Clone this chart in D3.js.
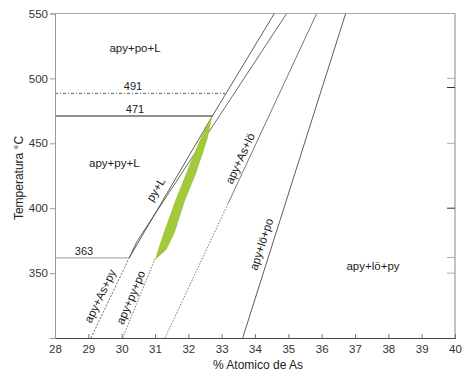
<!DOCTYPE html>
<html><head><meta charset="utf-8">
<script src="https://cdn.jsdelivr.net/npm/d3@7"></script>
<style>body{margin:0;background:#fff}svg{display:block;font-family:"Liberation Sans",Arial,sans-serif}</style>
</head><body><svg id="c" width="468" height="382"></svg>
<script>
// ---- data ----
const xTicks = [28,29,30,31,32,33,34,35,36,37,38,39,40];
const yTicks = [350,400,450,500,550];
const rightTicks = [500,493,450,400,362,350];
const rightTickDark = [false,true,false,true,false,false];
// boundary curves [% As, T °C]
const lineApyAsPy = [[29.08,300],[30.23,362]];            // dashed
const linePyL_left = [[30.23,362],[32.72,471],[34.58,550]];
const linePyL_right = [[30.23,362],[30.45,374],[34.95,550]];
const lineApyPyPo = [[30.03,300],[31.0,361]];             // dotted
const lineApyAsLoDot = [[31.3,300],[33.2,404]];           // dotted part
const lineApyAsLo = [[33.2,404],[35.85,550]];             // solid part
const lineApyLoPo = [[33.63,300],[36.72,550]];
// green field: left edge (bottom->top), right edge (top->bottom)
const greenLeft = [[31.0,360],[31.09,368],[31.26,381],[31.61,406],[31.92,426],[32.22,445],[32.35,453],[32.70,471]];
const greenRight = [[32.72,471],[32.57,453],[32.47,445],[32.22,426],[31.9,406],[31.59,381],[31.34,368],[31.0,360]];
// horizontal reference lines
const hLines = [{t:488.5,x1:28,x2:33.1,label:"491",lx:30.34},{t:471,x1:28,x2:32.72,label:"471",lx:30.4},{t:361.7,x1:28,x2:30.23,label:"363",lx:28.87}];
// field labels
const fieldLabels = [
  {text:"apy+po+L",x:30.4,t:522.5,rot:0},
  {text:"apy+py+L",x:29.78,t:433.8,rot:0},
  {text:"apy+lö+py",x:37.54,t:355,rot:0}
];
const curveLabels = [
  {text:"py+L",x:31.05,t:414,rot:-59},
  {text:"apy+As+lö",x:33.58,t:438,rot:-65},
  {text:"apy+lö+po",x:34.22,t:372,rot:-72},
  {text:"apy+As+py",x:29.38,t:332,rot:-64},
  {text:"apy+py+po",x:30.3,t:331,rot:-67}
];

// ---- chart ----
const svg = d3.select("#c");
const x = d3.scaleLinear().domain([28,40]).range([55,455]);
const y = d3.scaleLinear().domain([300,550]).range([338,13.5]);
const line = d3.line().x(d=>x(d[0])).y(d=>y(d[1]));

// frame
svg.append("line").attr("x1",x(28)).attr("x2",x(40)).attr("y1",y(550)).attr("y2",y(550)).attr("stroke","#aaa");
svg.append("line").attr("x1",x(40)).attr("x2",x(40)).attr("y1",y(550)).attr("y2",y(300)).attr("stroke","#888");

// curves
function curve(data, dash, color, w){
  svg.append("path").attr("d",line(data)).attr("fill","none").attr("stroke",color).attr("stroke-width",w||0.8)
    .attr("stroke-dasharray",dash||null);
}
curve(lineApyAsPy,"2,1.5","#444");
curve(linePyL_left,null,"#333");
curve(linePyL_right,null,"#444");
curve(lineApyPyPo,"1.5,1.5","#555");
curve(lineApyAsLoDot,"1.5,1.5","#555");
curve(lineApyAsLo,null,"#555");
curve(lineApyLoPo,null,"#333");

// green
svg.append("path").attr("d", line(greenLeft.concat(greenRight))+"Z").attr("fill","#a2c83c").attr("stroke","none");

// horizontal lines
hLines.forEach((h,i)=>{
  svg.append("line").attr("x1",x(h.x1)).attr("x2",x(h.x2)).attr("y1",y(h.t)).attr("y2",y(h.t))
    .attr("stroke", i===0?"#555":(i===1?"#222":"#999")).attr("stroke-width",i===1?1.1:1)
    .attr("stroke-dasharray", i===0?"3,2,1,2":null);
  svg.append("text").attr("x",x(h.lx)).attr("y",y(h.t)-3).attr("text-anchor","middle")
    .attr("font-size","11px").attr("fill","#222").text(h.label);
});

// axes
const gx = svg.append("g").attr("transform",`translate(0,${y(300)})`)
  .call(d3.axisBottom(x).tickValues(xTicks).tickSize(-4).tickPadding(7).tickFormat(d3.format("d")));
gx.select(".domain").attr("stroke","#444");
gx.selectAll(".tick line").attr("stroke","#777");
gx.selectAll("text").attr("font-size","11.5px").attr("fill","#333").attr("font-family","Liberation Sans, Arial, sans-serif");

const gy = svg.append("g").attr("transform",`translate(${x(28)},0)`)
  .call(d3.axisLeft(y).tickValues(yTicks).tickSize(5).tickPadding(2).tickFormat(d3.format("d")));
gy.select(".domain").attr("stroke","#999");
gy.selectAll(".tick line").attr("stroke","#999");
gy.selectAll("text").attr("font-size","11.5px").attr("fill","#333").attr("font-family","Liberation Sans, Arial, sans-serif");

// right ticks (inward)
svg.selectAll(".rt").data(rightTicks).enter().append("line")
  .attr("x1",x(40)-8).attr("x2",x(40)).attr("y1",d=>y(d)).attr("y2",d=>y(d))
  .attr("stroke",(d,i)=>rightTickDark[i]?"#333":"#aaa");

// labels
fieldLabels.forEach(l=>{
  svg.append("text").attr("x",x(l.x)).attr("y",y(l.t)).attr("text-anchor","middle").attr("dominant-baseline","middle")
    .attr("font-size","11.5px").attr("fill","#222").text(l.text);
});
curveLabels.forEach(l=>{
  svg.append("text").attr("transform",`translate(${x(l.x)},${y(l.t)}) rotate(${l.rot})`)
    .attr("text-anchor","middle").attr("dominant-baseline","middle")
    .attr("font-size","11.5px").attr("fill","#222").text(l.text);
});

// axis titles
svg.append("text").attr("x",258).attr("y",369).attr("text-anchor","middle").attr("font-size","12px").attr("fill","#222").text("% Atomico de As");
svg.append("text").attr("transform","translate(20,178) rotate(-90)").attr("text-anchor","middle").attr("dominant-baseline","middle")
  .attr("font-size","12px").attr("fill","#222").text("Temperatura °C");
</script></body></html>
